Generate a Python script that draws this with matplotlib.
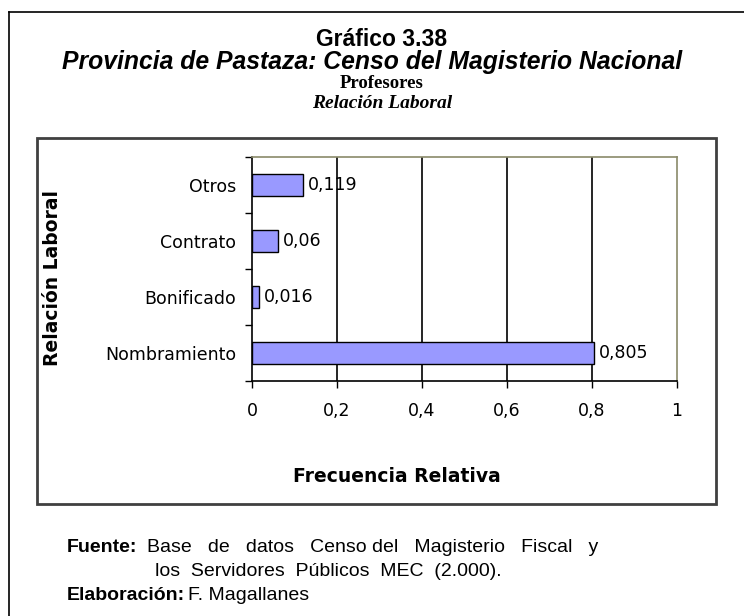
import matplotlib
matplotlib.use("Agg")
import matplotlib.pyplot as plt
from matplotlib.patches import Rectangle
from matplotlib.lines import Line2D
import numpy as np

# relacion laboral de los profesores (frecuencia relativa)
categorias = ["Nombramiento", "Bonificado", "Contrato", "Otros"]
valores = [0.805, 0.016, 0.06, 0.119]
etiquetas = ["0,805", "0,016", "0,06", "0,119"]
xticks = [0, 0.2, 0.4, 0.6, 0.8, 1]
xticklabels = ["0", "0,2", "0,4", "0,6", "0,8", "1"]

W, H = 744, 616
fig = plt.figure(figsize=(W / 100, H / 100), dpi=100)

def px(x, y):
    return x / W, 1 - y / H

# marco exterior (solo se ven borde izquierdo y superior)
fig.add_artist(Line2D([9 / W, 9 / W], [0, 1 - 12 / H], color="black", lw=1.2))
fig.add_artist(Line2D([9 / W, 1], [1 - 12 / H, 1 - 12 / H], color="black", lw=1.2))

# recuadro del grafico
x0, y0 = px(37, 504)
x1, y1 = px(716, 138)
fig.add_artist(Rectangle((x0, y0), x1 - x0, y1 - y0, transform=fig.transFigure,
                         fill=False, edgecolor="#404040", lw=2))

# titulos
fig.text(*px(382, 39), "Gráfico 3.38", ha="center", va="center",
         family="Liberation Sans", weight="bold", fontsize=16.5)
fig.text(*px(372, 62), "Provincia de Pastaza: Censo del Magisterio Nacional",
         ha="center", va="center", family="Liberation Sans", weight="bold",
         style="italic", fontsize=17.8)
fig.text(*px(382, 84), "Profesores", ha="center", va="center",
         family="Liberation Serif", weight="bold", fontsize=13.5)
fig.text(*px(382, 104), "Relación Laboral", ha="center", va="center",
         family="Liberation Serif", weight="bold", style="italic", fontsize=14)

ax_l, ax_b = px(252, 381)
ax_r, ax_t = px(677, 157)
ax = fig.add_axes([ax_l, ax_b, ax_r - ax_l, ax_t - ax_b])

y = np.arange(len(categorias))
ax.barh(y, valores, height=0.41, color="#9999FF", edgecolor="black", lw=1, zorder=3)
for yi, v, t in zip(y, valores, etiquetas):
    ax.text(v + 0.012, yi, t, va="center", ha="left", fontsize=12.5,
            family="DejaVu Sans", color="black", zorder=4)

ax.set_xlim(0, 1)
ax.set_ylim(-0.5, len(categorias) - 0.5)
ax.set_xticks(xticks)
ax.set_xticklabels(xticklabels, fontsize=12.5, family="DejaVu Sans")
ax.set_yticks(y)
ax.set_yticklabels(categorias, fontsize=12.5, family="DejaVu Sans")
ax.set_yticks(np.arange(len(categorias) + 1) - 0.5, minor=True)
ax.tick_params(axis="y", which="major", length=0, pad=11.5)
ax.tick_params(axis="y", which="minor", length=5, direction="out", width=1)
ax.tick_params(axis="x", length=5, direction="out", width=1, pad=10)

for gx in xticks[1:-1]:
    ax.axvline(gx, color="black", lw=1.2, zorder=1)

ax.spines["left"].set_color("black")
ax.spines["bottom"].set_color("black")
ax.spines["left"].set_linewidth(1.2)
ax.spines["bottom"].set_linewidth(1.2)
for s in ("top", "right"):
    ax.spines[s].set_color("#8a8a6a")
    ax.spines[s].set_linewidth(1.2)

fig.text(*px(53, 278), "Relación Laboral", rotation=90, ha="center", va="center",
         family="DejaVu Sans", weight="bold", fontsize=13.5)
fig.text(*px(397, 477), "Frecuencia Relativa", ha="center", va="center",
         family="DejaVu Sans", weight="bold", fontsize=13.5)

# pie de grafico
fs = 14
fig.text(*px(67, 548), "Fuente:", ha="left", va="center",
         family="Liberation Sans", weight="bold", fontsize=fs)
fig.text(*px(147, 548), "Base   de   datos   Censo del   Magisterio   Fiscal   y",
         ha="left", va="center", family="Liberation Sans", fontsize=fs)
fig.text(*px(155, 572), "los  Servidores  Públicos  MEC  (2.000).", ha="left",
         va="center", family="Liberation Sans", fontsize=fs)
fig.text(*px(67, 596), "Elaboración:", ha="left", va="center",
         family="Liberation Sans", weight="bold", fontsize=fs)
fig.text(*px(188, 596), "F. Magallanes", ha="left", va="center",
         family="Liberation Sans", fontsize=fs)

fig.savefig("out.png", dpi=100)
